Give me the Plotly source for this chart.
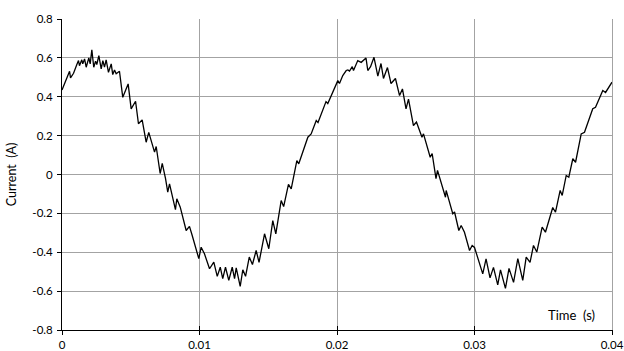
import plotly.graph_objects as go

# Digitised waveform (time in milliseconds, current in amperes)
time_ms = [
    0.00, 0.35, 0.55, 0.62, 0.84, 1.08, 1.20, 1.27, 1.44, 1.51, 1.64, 1.76, 1.95, 2.05, 2.17,
    2.31, 2.44, 2.53, 2.68, 2.85, 2.97, 3.09, 3.21, 3.38, 3.58, 3.69, 3.82, 3.94, 4.18, 4.42,
    4.81, 5.03, 5.35, 5.56, 5.83, 6.12, 6.31, 6.73, 6.85, 7.14, 7.29, 7.53, 7.69, 7.82, 8.25,
    8.35, 8.60, 9.03, 9.27, 9.47, 9.95, 10.12, 10.36, 10.73, 11.04, 11.29, 11.51, 11.69, 11.89,
    12.13, 12.38, 12.55, 12.67, 12.96, 13.15, 13.35, 13.62, 13.85, 14.12, 14.33, 14.73, 15.04,
    15.33, 15.55, 15.94, 16.12, 16.47, 16.67, 17.08, 17.22, 17.88, 18.12, 18.49, 18.62, 19.20,
    19.33, 19.82, 20.06, 20.18, 20.42, 20.67, 20.79, 20.91, 21.11, 21.20, 21.51, 21.76, 22.00,
    22.11, 22.24, 22.44, 22.69, 22.97, 23.20, 23.38, 23.67, 23.93, 24.25, 24.55, 24.76, 25.02,
    25.20, 25.56, 25.78, 26.18, 26.29, 26.78, 26.92, 27.09, 27.20, 27.31, 27.89, 27.94, 28.42,
    28.55, 28.86, 29.03, 29.27, 29.64, 29.83, 30.00, 30.49, 30.60, 30.84, 31.13, 31.38, 31.69,
    31.89, 32.25, 32.51, 32.84, 33.15, 33.51, 33.76, 34.04, 34.29, 34.53, 34.92, 35.16, 35.69,
    35.89, 36.23, 36.38, 36.67, 36.86, 37.15, 37.35, 37.76, 38.00, 38.60, 38.80, 39.33, 39.53,
    40.00,
]
current_A = [
    0.435, 0.500, 0.531, 0.497, 0.521, 0.566, 0.586, 0.560, 0.590, 0.569, 0.595, 0.552, 0.600, 0.569, 0.641,
    0.552, 0.583, 0.566, 0.612, 0.543, 0.586, 0.552, 0.590, 0.526, 0.569, 0.514, 0.538, 0.518, 0.531, 0.397,
    0.466, 0.338, 0.377, 0.261, 0.281, 0.166, 0.217, 0.115, 0.144, 0.005, 0.057, -0.021, -0.091, -0.048, -0.181,
    -0.125, -0.168, -0.288, -0.267, -0.314, -0.433, -0.374, -0.408, -0.485, -0.451, -0.524, -0.477, -0.536, -0.477,
    -0.545, -0.477, -0.536, -0.480, -0.576, -0.490, -0.524, -0.425, -0.463, -0.391, -0.452, -0.305, -0.382,
    -0.237, -0.305, -0.134, -0.165, -0.051, -0.074, 0.072, 0.055, 0.192, 0.209, 0.278, 0.267, 0.375,
    0.365, 0.447, 0.483, 0.468, 0.509, 0.535, 0.538, 0.532, 0.555, 0.535, 0.586, 0.577, 0.596,
    0.599, 0.535, 0.555, 0.603, 0.506, 0.571, 0.494, 0.550, 0.468, 0.494, 0.406, 0.440, 0.338,
    0.388, 0.252, 0.270, 0.192, 0.209, 0.089, 0.108, 0.028, -0.021, 0.021, -0.117, -0.082, -0.202,
    -0.193, -0.288, -0.262, -0.297, -0.391, -0.365, -0.375, -0.483, -0.511, -0.434, -0.532, -0.478, -0.568,
    -0.491, -0.586, -0.483, -0.555, -0.433, -0.545, -0.425, -0.452, -0.365, -0.399, -0.271, -0.297, -0.170,
    -0.194, -0.082, -0.108, -0.005, -0.014, 0.081, 0.063, 0.209, 0.217, 0.338, 0.346, 0.432, 0.422,
    0.475,
]
time_s = [t / 1000.0 for t in time_ms]

x_tickvals = [0, 0.01, 0.02, 0.03, 0.04]
x_ticktext = ["0", "0.01", "0.02", "0.03", "0.04"]
y_tickvals = [0.8, 0.6, 0.4, 0.2, 0, -0.2, -0.4, -0.6, -0.8]
y_ticktext = ["0.8", "0.6", "0.4", "0.2", "0", "-0.2", "-0.4", "-0.6", "-0.8"]

FONT = "Lato, 'Open Sans', sans-serif"
GRID = "#a3a3a3"
X_RANGE = [0, 0.0400001]
Y_RANGE = [-0.8, 0.8]

fig = go.Figure()
fig.add_trace(go.Scatter(x=time_s, y=current_A, mode="lines",
                         line=dict(color="black", width=1.3), showlegend=False,
                         hoverinfo="skip"))
# invisible trace carrying the helper axes (inside half of x ticks, grey right border)
fig.add_trace(go.Scatter(x=[0, 0.04], y=[0, 0], xaxis="x2", yaxis="y2", mode="lines",
                         line=dict(width=0), showlegend=False, hoverinfo="skip"))

fig.update_layout(
    width=624, height=351,
    margin=dict(l=62, r=12, t=19, b=21),
    plot_bgcolor="white", paper_bgcolor="white",
    font=dict(family=FONT, size=11.5, color="black"),
    xaxis=dict(range=X_RANGE, tickvals=x_tickvals, ticktext=x_ticktext,
               showgrid=True, gridcolor=GRID, gridwidth=1,
               showline=True, linecolor="black", linewidth=1,
               ticks="outside", ticklen=4, tickcolor="black", tickwidth=1,
               zeroline=False, automargin=False, tickfont=dict(size=11.5)),
    xaxis2=dict(range=X_RANGE, overlaying="x", anchor="y", side="bottom",
                tickvals=x_tickvals, showticklabels=False, showgrid=False,
                showline=False, zeroline=False, automargin=False,
                ticks="inside", ticklen=4, tickcolor="black", tickwidth=1),
    yaxis=dict(range=Y_RANGE, tickvals=y_tickvals, ticktext=y_ticktext,
               showgrid=True, gridcolor=GRID, gridwidth=1,
               showline=True, linecolor="black", linewidth=1,
               ticks="outside", ticklen=4, tickcolor="black", tickwidth=1,
               zeroline=False, automargin=False, tickfont=dict(size=11.5),
               ticklabelstandoff=2,
               title=dict(text="Current \u00a0(A)", font=dict(size=12.5), standoff=12)),
    yaxis2=dict(range=Y_RANGE, overlaying="y", side="right", anchor="x",
                showline=True, linecolor=GRID, linewidth=1,
                showticklabels=False, showgrid=False, zeroline=False,
                ticks="", automargin=False),
    annotations=[dict(x=0.0389, y=-0.725, xref="x", yref="y", text="Time \u00a0(s)",
                      showarrow=False, xanchor="right", yanchor="middle",
                      font=dict(size=13, family=FONT))],
)

fig.write_html("out.html")
